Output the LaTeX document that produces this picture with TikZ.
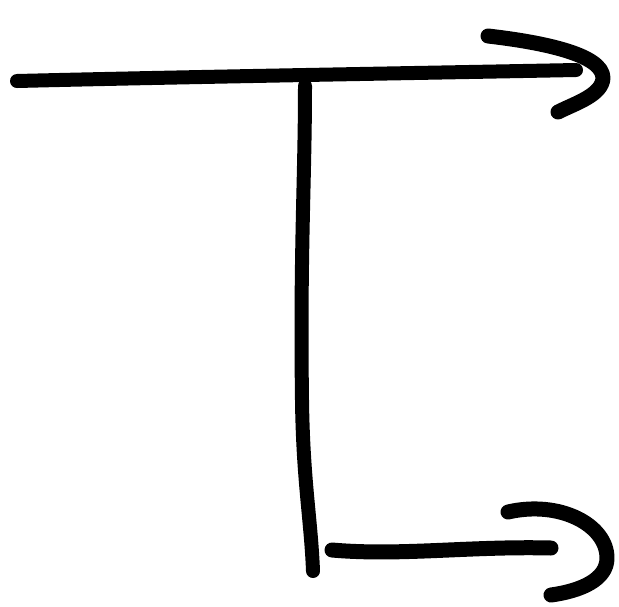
\documentclass[tikz,border=0pt]{standalone}
\usepackage{tikz}

\begin{document}
\begin{tikzpicture}[x=1pt, y=-1pt,
  pen/.style={draw=black, line width=14pt, line cap=round, line join=round},
  head/.style={pen, line width=15pt}]
  \useasboundingbox (0,0) rectangle (619,606);
  % top bar and its hook
  \coordinate (topL) at (17,81);
  \coordinate (topR) at (576,70);
  \coordinate (hookA) at (488,36);
  \coordinate (hookB) at (603,78);
  \coordinate (hookC) at (558,112);
  % stem down to the lower arrow
  \coordinate (stemT) at (305,86);
  \coordinate (stemB) at (313,571);
  \coordinate (lowL) at (332,550);
  \coordinate (lowR) at (551,548);
  \coordinate (tipA) at (508,512);
  \coordinate (tipB) at (607,558);
  \coordinate (tipC) at (551,595);
  \draw[pen] (topL) .. controls (180,77) and (420,73) .. (topR);
  \draw[head] (hookA) .. controls (540,42) and (603,54) .. (hookB)
    .. controls (602,95) and (576,103) .. (hookC);
  \draw[pen] (stemT) .. controls (305,180) and (300,250) .. (302,400)
    .. controls (303,480) and (311,520) .. (stemB);
  \draw[head] (lowL) .. controls (400,556) and (470,546) .. (lowR);
  \draw[head] (tipA) .. controls (560,500) and (607,525) .. (tipB)
    .. controls (607,580) and (580,591) .. (tipC);
\end{tikzpicture}
\end{document}
